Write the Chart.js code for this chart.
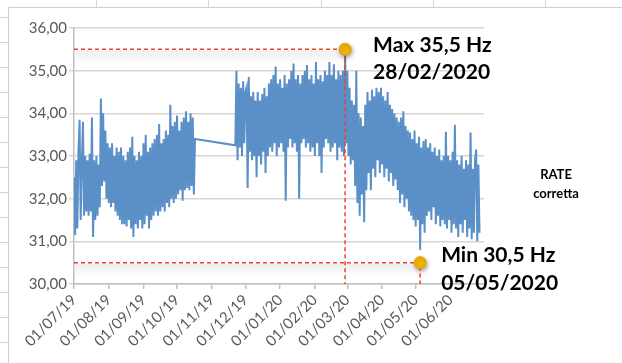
<!DOCTYPE html>
<html>
<head>
<meta charset="utf-8">
<script src="https://cdn.jsdelivr.net/npm/chart.js@4.4.1/dist/chart.umd.min.js"></script>
<style>
  html, body { margin: 0; padding: 0; background: #fff; }
  #rateChart { display: block; }
</style>
</head>
<body>
<canvas id="rateChart" width="622" height="363"></canvas>
<script>
/**************** Data ****************/
// x values are days counted from 01/07/2019
const monthDays = [0, 31, 62, 92, 123, 153, 184, 215, 244, 275, 305, 336];
const monthLabels = [
  "01/07/19", "01/08/19", "01/09/19", "01/10/19", "01/11/19", "01/12/19",
  "01/01/20", "01/02/20", "01/03/20", "01/04/20", "01/05/20", "01/06/20",
];
const yTicks = [30, 31, 32, 33, 34, 35, 36];

// first block of readings, 01/07/19 -> 17/10/19 (one value per day)
const summerStartDay = 0;
const rateSummer = [
  32.5, 31.15, 32.9, 31.3, 33.1, 33.85, 31.5, 32.8, 33.8, 31.6,
  33.0, 31.7, 32.9, 31.6, 33.05, 31.7, 33.9, 31.1, 32.9, 31.5,
  33.0, 31.6, 32.8, 31.8, 34.35, 32.3, 34.0, 32.4, 33.6, 32.0,
  33.3, 31.9, 33.2, 31.8, 33.3, 31.9, 33.0, 31.7, 33.2, 31.6,
  33.1, 31.5, 33.2, 31.4, 33.0, 31.4, 32.9, 31.35, 33.1, 31.5,
  33.2, 31.3, 33.45, 31.1, 33.0, 31.4, 32.9, 31.3, 33.1, 31.5,
  33.0, 31.3, 33.3, 31.4, 33.5, 31.6, 33.1, 31.3, 33.2, 31.5,
  33.3, 31.6, 33.4, 31.7, 33.5, 31.6, 33.75, 31.7, 33.3, 31.8,
  33.4, 31.7, 33.6, 31.9, 33.5, 31.8, 34.2, 32.0, 33.7, 31.9,
  33.8, 32.0, 33.95, 32.1, 33.6, 32.2, 33.8, 31.95, 33.9, 32.2,
  34.05, 32.25, 33.8, 32.2, 34.0, 32.3, 33.9, 32.1, 33.4,
];

// second block of readings, 22/11/19 -> 26/06/20 (one value per day)
const winterStartDay = 144;
const rateWinter = [
  33.25, 35.0, 32.9, 34.7, 33.2, 34.6, 33.0, 34.75, 33.3, 34.5,
  34.6, 32.25, 34.85, 33.1, 34.4, 32.9, 34.5, 33.0, 34.3, 32.5,
  34.5, 33.0, 34.3, 32.8, 34.45, 33.1, 34.6, 32.6, 34.4, 33.0,
  34.7, 33.2, 34.8, 33.1, 34.9, 33.3, 35.1, 33.0, 34.7, 33.2,
  34.8, 33.3, 34.6, 33.1, 34.9, 31.95, 34.7, 33.2, 34.8, 33.4,
  35.0, 33.2, 35.17, 33.3, 34.8, 33.1, 34.9, 32.0, 34.7, 33.3,
  34.9, 33.4, 35.0, 33.2, 35.13, 33.3, 34.8, 33.1, 34.9, 33.2,
  34.7, 33.0, 35.2, 33.3, 34.8, 33.0, 34.9, 32.6, 34.75, 33.2,
  35.0, 33.4, 34.9, 33.3, 35.2, 33.1, 34.9, 33.2, 35.15, 33.3,
  34.8, 32.9, 35.0, 33.2, 34.9, 33.1, 35.0, 33.0, 35.45, 33.3,
  35.0, 33.0, 34.6, 32.8, 34.3, 32.9, 34.2, 32.3, 35.0, 31.9,
  34.0, 31.6, 33.9, 32.1, 33.7, 31.45, 34.2, 32.2, 34.5, 32.6,
  34.3, 32.2, 34.55, 32.7, 34.4, 32.5, 34.6, 32.9, 34.5, 32.6,
  34.6, 32.8, 34.4, 32.5, 34.3, 32.7, 34.5, 32.4, 34.2, 32.6,
  34.1, 32.3, 34.0, 32.45, 33.9, 32.2, 33.8, 31.9, 33.9, 32.1,
  34.05, 31.8, 33.7, 32.0, 33.6, 31.7, 33.55, 31.6, 33.4, 31.5,
  33.6, 31.35, 33.3, 31.5, 33.45, 30.8, 33.2, 31.4, 33.35, 31.2,
  33.4, 31.6, 33.2, 31.7, 33.3, 31.5, 33.1, 31.8, 33.2, 31.4,
  33.0, 31.6, 33.15, 31.35, 32.9, 31.5, 33.0, 31.4, 33.57, 31.3,
  33.0, 31.5, 32.9, 31.2, 33.1, 31.4, 33.73, 31.3, 32.9, 31.1,
  32.8, 31.4, 33.0, 31.2, 32.7, 31.5, 32.9, 31.1, 32.8, 31.3,
  33.55, 31.05, 32.7, 31.2, 32.9, 33.15, 31.0, 32.8, 31.2,
];

const maxDay = 242; // 28/02/2020
const maxValue = 35.5;
const minDay = 309; // 05/05/2020
const minValue = 30.5;
const maxLabel = ["Max 35,5 Hz", "28/02/2020"];
const minLabel = ["Min 30,5 Hz", "05/05/2020"];
const seriesName = ["RATE", "corretta"];

/**************** Build points ****************/
const ratePoints = [];
rateSummer.forEach((v, i) => ratePoints.push({ x: summerStartDay + i, y: v }));
rateWinter.forEach((v, i) => ratePoints.push({ x: winterStartDay + i, y: v }));

const axisFont = { family: "Lato, 'Open Sans', sans-serif", size: 15 };
const axisColor = "#595959";
const dashRed = "#f2402a";

/**************** Plugins ****************/
// spreadsheet cells behind the chart object
const sheetBackground = {
  id: "sheetBackground",
  beforeDraw(chart) {
    const { ctx, width, height } = chart;
    ctx.save();
    ctx.fillStyle = "#ffffff";
    ctx.fillRect(0, 0, width, height);
    ctx.strokeStyle = "#d4d4d4";
    ctx.lineWidth = 1;
    ctx.beginPath();
    [96, 208, 321, 433, 545].forEach((x) => {
      ctx.moveTo(x + 0.5, 0);
      ctx.lineTo(x + 0.5, 7);
    });
    for (let y = 17; y < height; y += 25) {
      ctx.moveTo(0, y + 0.5);
      ctx.lineTo(8, y + 0.5);
    }
    ctx.stroke();
    // chart object frame
    ctx.strokeStyle = "#cfcfcf";
    ctx.beginPath();
    ctx.moveTo(8.5, height);
    ctx.lineTo(8.5, 7.5);
    ctx.lineTo(width, 7.5);
    ctx.stroke();
    ctx.restore();
  },
};

// soft shadow under the red dashed guides
const guideShadow = {
  id: "guideShadow",
  beforeDatasetsDraw(chart) {
    const { ctx, chartArea, scales } = chart;
    ctx.save();
    [[maxDay, maxValue], [minDay, minValue]].forEach(([d, v]) => {
      const y = scales.y.getPixelForValue(v);
      const x1 = scales.x.getPixelForValue(d);
      const g = ctx.createLinearGradient(0, y, 0, y + 15);
      g.addColorStop(0, "rgba(0,0,0,0.07)");
      g.addColorStop(1, "rgba(0,0,0,0)");
      ctx.fillStyle = g;
      ctx.fillRect(chartArea.left + 1, y + 1, x1 - chartArea.left, 15);
    });
    ctx.restore();
  },
};

// drop shadow on the yellow markers
const markerShadow = {
  id: "markerShadow",
  beforeDatasetDraw(chart, args) {
    if (args.meta.type === "scatter") {
      const ctx = chart.ctx;
      ctx.save();
      ctx.shadowColor = "rgba(0,0,0,0.35)";
      ctx.shadowBlur = 4;
      ctx.shadowOffsetX = 1;
      ctx.shadowOffsetY = 2;
    }
  },
  afterDatasetDraw(chart, args) {
    if (args.meta.type === "scatter") chart.ctx.restore();
  },
};

// annotations and series name
const textLabels = {
  id: "textLabels",
  afterDraw(chart) {
    const { ctx, scales } = chart;
    ctx.save();
    ctx.fillStyle = "#000000";
    ctx.textBaseline = "middle";
    ctx.textAlign = "left";
    ctx.font = "bold 21px Lato, 'Open Sans', sans-serif";
    const mx = scales.x.getPixelForValue(maxDay);
    const my = scales.y.getPixelForValue(maxValue);
    ctx.fillText(maxLabel[0], mx + 28, my - 4);
    ctx.fillText(maxLabel[1], mx + 28, my + 23);
    const nx = scales.x.getPixelForValue(minDay);
    const ny = scales.y.getPixelForValue(minValue);
    ctx.fillText(minLabel[0], nx + 21, ny - 7);
    ctx.fillText(minLabel[1], nx + 21, ny + 21);

    ctx.textAlign = "center";
    ctx.font = "bold 13px Lato, 'Open Sans', sans-serif";
    ctx.fillText(seriesName[0], 556, 175);
    ctx.fillText(seriesName[1], 556, 194);
    ctx.restore();
  },
};

/**************** Chart ****************/
const ctx = document.getElementById("rateChart").getContext("2d");

new Chart(ctx, {
  type: "line",
  data: {
    datasets: [
      {
        label: "RATE corretta",
        data: ratePoints,
        borderColor: "#5a8fc8",
        borderWidth: 2,
        pointRadius: 0,
        tension: 0,
        order: 3,
      },
      {
        label: "max guide",
        data: [
          { x: 0, y: maxValue },
          { x: maxDay, y: maxValue },
          { x: maxDay, y: 30 },
        ],
        borderColor: dashRed,
        borderWidth: 1.5,
        borderDash: [4, 3],
        pointRadius: 0,
        order: 1,
      },
      {
        label: "min guide",
        data: [
          { x: 0, y: minValue },
          { x: minDay, y: minValue },
          { x: minDay, y: 30 },
        ],
        borderColor: dashRed,
        borderWidth: 1.5,
        borderDash: [4, 3],
        pointRadius: 0,
        order: 1,
      },
      {
        type: "scatter",
        label: "markers",
        data: [
          { x: maxDay, y: maxValue },
          { x: minDay, y: minValue },
        ],
        pointRadius: 6,
        backgroundColor: "#f5b400",
        borderColor: "#e8a200",
        borderWidth: 1,
        order: 0,
      },
    ],
  },
  plugins: [sheetBackground, guideShadow, markerShadow, textLabels],
  options: {
    responsive: false,
    animation: false,
    layout: { padding: { top: 28, right: 138, bottom: 0, left: 0 } },
    scales: {
      x: {
        type: "linear",
        min: 0,
        max: 366,
        afterBuildTicks: (scale) => {
          scale.ticks = monthDays.map((d) => ({ value: d }));
        },
        afterFit: (scale) => {
          scale.height = 79;
        },
        ticks: {
          autoSkip: false,
          minRotation: 45,
          maxRotation: 45,
          padding: 2,
          font: axisFont,
          color: axisColor,
          callback: (value) => monthLabels[monthDays.indexOf(value)],
        },
        grid: {
          drawOnChartArea: false,
          tickLength: 5,
          color: "#bfbfbf",
          lineWidth: 1.5,
        },
        border: { color: "#bfbfbf", width: 1.5 },
      },
      y: {
        min: 30,
        max: 36,
        afterBuildTicks: (scale) => {
          scale.ticks = yTicks.map((v) => ({ value: v }));
        },
        afterFit: (scale) => {
          scale.width = 74;
        },
        ticks: {
          padding: 2,
          font: axisFont,
          color: axisColor,
          callback: (value) => value.toFixed(2).replace(".", ","),
        },
        grid: {
          color: "#d6d6d6",
          lineWidth: 1.5,
          tickLength: 5,
        },
        border: { color: "#bfbfbf", width: 1.5 },
      },
    },
    plugins: {
      legend: { display: false },
      tooltip: { enabled: false },
    },
  },
});
</script>
</body>
</html>
